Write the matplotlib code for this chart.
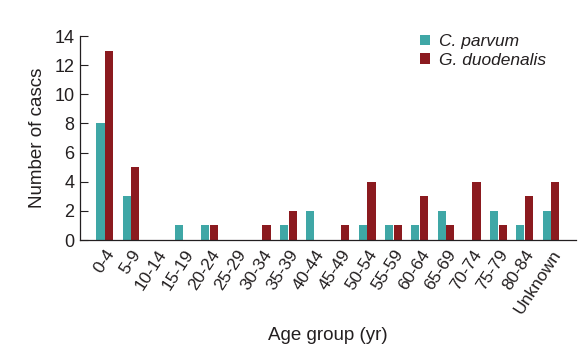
import numpy as np
import matplotlib.pyplot as plt

plt.rcParams['font.family'] = ['Liberation Sans', 'DejaVu Sans']

age_groups = ["0-4", "5-9", "10-14", "15-19", "20-24", "25-29", "30-34", "35-39",
              "40-44", "45-49", "50-54", "55-59", "60-64", "65-69", "70-74",
              "75-79", "80-84", "Unknown"]
c_parvum = [8, 3, 0, 1, 1, 0, 0, 1, 2, 0, 1, 1, 1, 2, 0, 2, 1, 2]
g_duodenalis = [13, 5, 0, 0, 1, 0, 1, 2, 0, 1, 4, 1, 3, 1, 4, 1, 3, 4]

teal = "#3fa7a6"
red = "#8b1a1f"

fig = plt.figure(figsize=(5.87, 3.53), dpi=100)
ax = fig.add_axes([0.136, 0.320, 0.845, 0.578])

x = np.arange(len(age_groups))
w = 0.31
ax.bar(x - w / 2 - 0.01, c_parvum, w, color=teal, label="C. parvum")
ax.bar(x + w / 2 + 0.01, g_duodenalis, w, color=red, label="G. duodenalis")

ax.set_xlim(-0.95, 17.95)
ax.set_ylim(0, 14)
ax.set_yticks(range(0, 15, 2))
ax.set_xticks(x)
ax.set_xticklabels(age_groups, rotation=57, ha="right", rotation_mode="anchor")
ax.tick_params(axis="x", length=0, labelsize=12.5, colors="#231f20", pad=5)
ax.tick_params(axis="y", direction="in", length=6, labelsize=13, colors="#231f20", pad=4)

for s in ["top", "right"]:
    ax.spines[s].set_visible(False)
for s in ["left", "bottom"]:
    ax.spines[s].set_color("#231f20")
    ax.spines[s].set_linewidth(0.9)

ax.set_ylabel("Number of cascs", fontsize=13.5, color="#231f20", labelpad=6)
ax.set_xlabel("Age group (yr)", fontsize=13.5, color="#231f20", labelpad=8)

leg = ax.legend(loc="upper left", bbox_to_anchor=(0.655, 1.085), frameon=False,
                prop={"style": "italic", "size": 12.5}, handlelength=0.55,
                handleheight=0.55, handletextpad=0.5, labelspacing=0.2)
for t in leg.get_texts():
    t.set_color("#231f20")

fig.savefig("out.png", dpi=100)
